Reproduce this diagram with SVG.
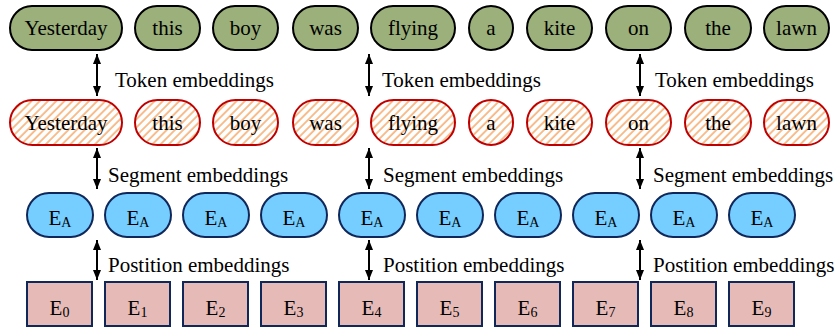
<svg xmlns="http://www.w3.org/2000/svg" width="837" height="333" viewBox="0 0 837 333">
  <defs>
    <pattern id="hatch" patternUnits="userSpaceOnUse" width="5.8" height="5.8" patternTransform="rotate(45)">
      <rect width="5.8" height="5.8" fill="#fff"/>
      <line x1="1" y1="0" x2="1" y2="5.8" stroke="#F5A25E" stroke-width="1.4"/>
    </pattern>
    <marker id="head" markerUnits="userSpaceOnUse" markerWidth="10" markerHeight="8" refX="10" refY="4" orient="auto-start-reverse">
      <path d="M0,0 L10,4 L0,8 z" fill="#000"/>
    </marker>
  </defs>
  <rect width="837" height="333" fill="#fff"/>

  <!-- word row -->
  <g fill="#9BB07A" stroke="#000" stroke-width="2">
    <rect id="w0" x="10" y="6" width="112" height="44" rx="22"/>
    <rect id="w1" x="135" y="6" width="65" height="44" rx="22"/>
    <rect id="w2" x="213" y="6" width="65" height="44" rx="22"/>
    <rect id="w3" x="293" y="6" width="65" height="44" rx="22"/>
    <rect id="w4" x="371" y="6" width="84" height="44" rx="22"/>
    <rect id="w5" x="469" y="6" width="44" height="44" rx="22"/>
    <rect id="w6" x="527" y="6" width="65" height="44" rx="22"/>
    <rect id="w7" x="606" y="6" width="65" height="44" rx="22"/>
    <rect id="w8" x="685" y="6" width="66" height="44" rx="22"/>
    <rect id="w9" x="764" y="6" width="65" height="44" rx="22"/>
  </g>

  <!-- token embedding row -->
  <g fill="url(#hatch)" stroke="#C00000" stroke-width="2">
    <rect id="t0" x="10" y="100" width="112" height="45" rx="22.5"/>
    <rect id="t1" x="135" y="100" width="65" height="45" rx="22.5"/>
    <rect id="t2" x="213" y="100" width="65" height="45" rx="22.5"/>
    <rect id="t3" x="293" y="100" width="65" height="45" rx="22.5"/>
    <rect id="t4" x="371" y="100" width="84" height="45" rx="22.5"/>
    <rect id="t5" x="469" y="100" width="44" height="45" rx="22"/>
    <rect id="t6" x="527" y="100" width="65" height="45" rx="22.5"/>
    <rect id="t7" x="606" y="100" width="65" height="45" rx="22.5"/>
    <rect id="t8" x="685" y="100" width="66" height="45" rx="22.5"/>
    <rect id="t9" x="764" y="100" width="65" height="45" rx="22.5"/>
  </g>

  <!-- segment embedding row -->
  <g fill="#75CEFF" stroke="#10275A" stroke-width="2">
    <rect id="s0" x="27" y="193" width="66" height="44" rx="22"/>
    <rect id="s1" x="105" y="193" width="66" height="44" rx="22"/>
    <rect id="s2" x="183" y="193" width="66" height="44" rx="22"/>
    <rect id="s3" x="261" y="193" width="66" height="44" rx="22"/>
    <rect id="s4" x="339" y="193" width="66" height="44" rx="22"/>
    <rect id="s5" x="417" y="193" width="66" height="44" rx="22"/>
    <rect id="s6" x="495" y="193" width="66" height="44" rx="22"/>
    <rect id="s7" x="573" y="193" width="66" height="44" rx="22"/>
    <rect id="s8" x="651" y="193" width="66" height="44" rx="22"/>
    <rect id="s9" x="729" y="193" width="66" height="44" rx="22"/>
  </g>

  <!-- position embedding row -->
  <g fill="#E5BAB7" stroke="#10275A" stroke-width="2">
    <rect id="p0" x="27" y="282" width="65" height="44"/>
    <rect id="p1" x="105" y="282" width="65" height="44"/>
    <rect id="p2" x="183" y="282" width="65" height="44"/>
    <rect id="p3" x="261" y="282" width="65" height="44"/>
    <rect id="p4" x="339" y="282" width="65" height="44"/>
    <rect id="p5" x="417" y="282" width="65" height="44"/>
    <rect id="p6" x="495" y="282" width="65" height="44"/>
    <rect id="p7" x="573" y="282" width="65" height="44"/>
    <rect id="p8" x="651" y="282" width="65" height="44"/>
    <rect id="p9" x="729" y="282" width="65" height="44"/>
  </g>

  <!-- double-headed connectors between rows -->
  <g id="connectors" stroke="#000" stroke-width="2" fill="none" marker-start="url(#head)" marker-end="url(#head)">
    <line x1="97" y1="54" x2="97" y2="96"/>
    <line x1="369" y1="54" x2="369" y2="96"/>
    <line x1="640" y1="54" x2="640" y2="96"/>
    <line x1="97" y1="148" x2="97" y2="189"/>
    <line x1="369" y1="148" x2="369" y2="189"/>
    <line x1="640" y1="148" x2="640" y2="189"/>
    <line x1="97" y1="240" x2="97" y2="280"/>
    <line x1="369" y1="240" x2="369" y2="280"/>
    <line x1="640" y1="240" x2="640" y2="280"/>
  </g>

  <!-- node texts -->
  <g font-family="Liberation Serif" font-size="21" fill="#000" text-anchor="middle">
    <text x="66" y="35">Yesterday</text>
    <text x="167.5" y="35">this</text>
    <text x="245.5" y="35">boy</text>
    <text x="325.5" y="35">was</text>
    <text x="413" y="35">flying</text>
    <text x="491" y="35">a</text>
    <text x="559.5" y="35">kite</text>
    <text x="638.5" y="35">on</text>
    <text x="718" y="35">the</text>
    <text x="796.5" y="35">lawn</text>

    <text x="66" y="130">Yesterday</text>
    <text x="167.5" y="130">this</text>
    <text x="245.5" y="130">boy</text>
    <text x="325.5" y="130">was</text>
    <text x="413" y="130">flying</text>
    <text x="491" y="130">a</text>
    <text x="559.5" y="130">kite</text>
    <text x="638.5" y="130">on</text>
    <text x="718" y="130">the</text>
    <text x="796.5" y="130">lawn</text>

    <text x="60" y="225">E<tspan font-size="14" dy="2">A</tspan></text>
    <text x="138" y="225">E<tspan font-size="14" dy="2">A</tspan></text>
    <text x="216" y="225">E<tspan font-size="14" dy="2">A</tspan></text>
    <text x="294" y="225">E<tspan font-size="14" dy="2">A</tspan></text>
    <text x="372" y="225">E<tspan font-size="14" dy="2">A</tspan></text>
    <text x="450" y="225">E<tspan font-size="14" dy="2">A</tspan></text>
    <text x="528" y="225">E<tspan font-size="14" dy="2">A</tspan></text>
    <text x="606" y="225">E<tspan font-size="14" dy="2">A</tspan></text>
    <text x="684" y="225">E<tspan font-size="14" dy="2">A</tspan></text>
    <text x="762" y="225">E<tspan font-size="14" dy="2">A</tspan></text>

    <text x="59.5" y="315">E<tspan font-size="14" dy="2">0</tspan></text>
    <text x="137.5" y="315">E<tspan font-size="14" dy="2">1</tspan></text>
    <text x="215.5" y="315">E<tspan font-size="14" dy="2">2</tspan></text>
    <text x="293.5" y="315">E<tspan font-size="14" dy="2">3</tspan></text>
    <text x="371.5" y="315">E<tspan font-size="14" dy="2">4</tspan></text>
    <text x="449.5" y="315">E<tspan font-size="14" dy="2">5</tspan></text>
    <text x="527.5" y="315">E<tspan font-size="14" dy="2">6</tspan></text>
    <text x="605.5" y="315">E<tspan font-size="14" dy="2">7</tspan></text>
    <text x="683.5" y="315">E<tspan font-size="14" dy="2">8</tspan></text>
    <text x="761.5" y="315">E<tspan font-size="14" dy="2">9</tspan></text>
  </g>

  <!-- row labels -->
  <g id="labels" font-family="Liberation Serif" font-size="21" fill="#000">
    <text x="115" y="87">Token embeddings</text>
    <text x="382" y="87">Token embeddings</text>
    <text x="655" y="87">Token embeddings</text>
    <text x="108" y="182">Segment embeddings</text>
    <text x="383" y="182">Segment embeddings</text>
    <text x="653" y="182">Segment embeddings</text>
    <text x="108" y="272">Postition embeddings</text>
    <text x="383" y="272">Postition embeddings</text>
    <text x="653" y="272">Postition embeddings</text>
  </g>
</svg>
